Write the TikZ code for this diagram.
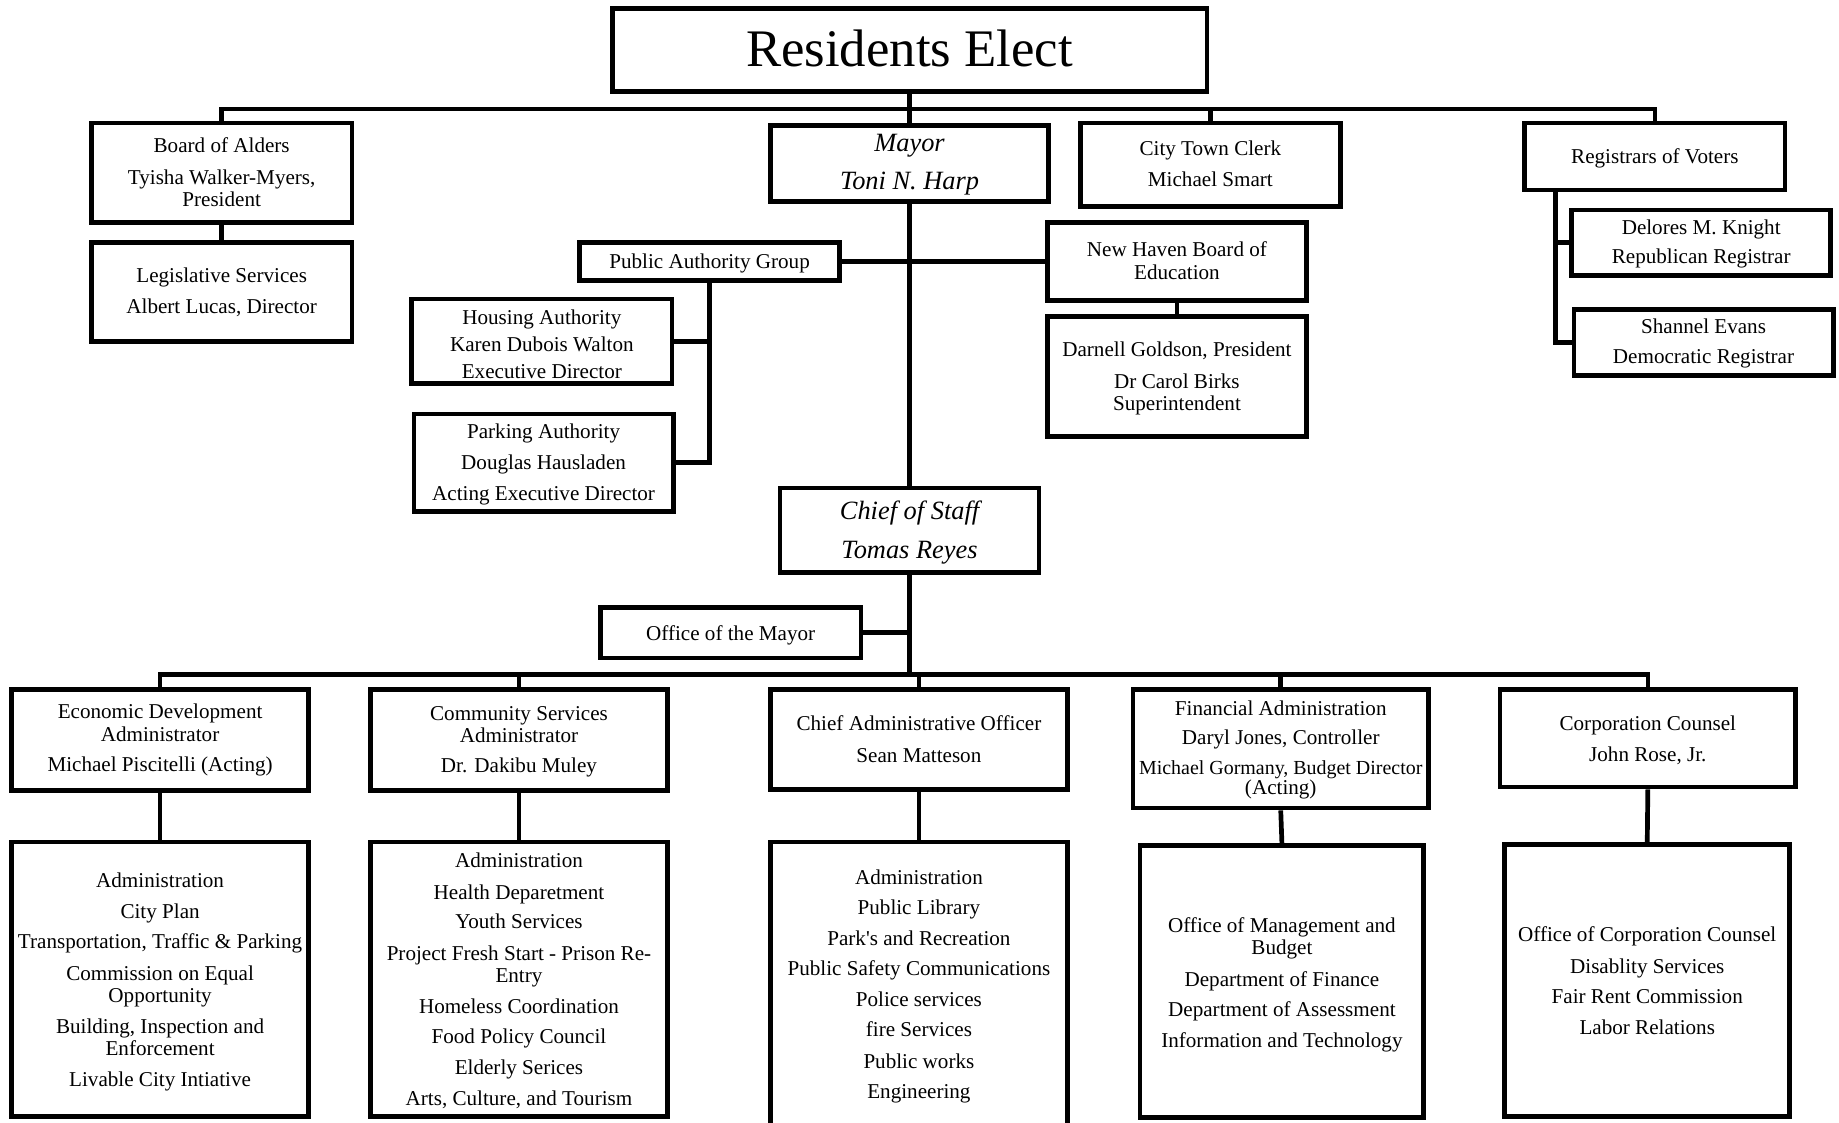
\documentclass[tikz,border=0pt]{standalone}
\usepackage{fontspec}
\setmainfont{Liberation Serif}[Ligatures=TeXOff]
\usetikzlibrary{fit}
\begin{document}
\begin{tikzpicture}[x=1pt,y=-1pt,
  box/.style={draw, line width=4pt, inner sep=0pt, line join=miter},
  conn/.style={draw, line width=4pt},
  txt/.style={align=center, inner sep=0pt, anchor=base, font=\fontsize{18}{19}\selectfont},
  itxt/.style={align=center, inner sep=0pt, anchor=base, font=\fontsize{22.5}{27}\selectfont\itshape}]
\useasboundingbox (0,0) rectangle (1568,957);
\fill[white] (0,0) rectangle (1568,957);

% boxes
\node[box, fit={(522,7) (1029,78)}] (R) {};
\node[box, fit={(78,105) (300,190)}] (BA) {};
\node[box, fit={(78,207) (300,291)}] (LS) {};
\node[box, fit={(657,107) (894,172)}] (M) {};
\node[box, fit={(921,105) (1143,176)}] (TC) {};
\node[box, fit={(1300,105) (1522,162)}] (RV) {};
\node[box, fit={(1340,179) (1561,235)}] (DK) {};
\node[box, fit={(1342,264) (1563,320)}] (SE) {};
\node[box, fit={(494,207) (716,239)}] (PAG) {};
\node[box, fit={(351,255) (573,327)}] (HA) {};
\node[box, fit={(353,353) (574,436)}] (PA) {};
\node[box, fit={(893,190) (1114,256)}] (NHB) {};
\node[box, fit={(893,270) (1114,372)}] (DG) {};
\node[box, fit={(665,416) (886,488)}] (CS) {};
\node[box, fit={(512,518) (734,561)}] (OM) {};
\node[box, fit={(10,588) (263,674)}] (ED) {};
\node[box, fit={(10,718) (263,952)}] (EDL) {};
\node[box, fit={(316,588) (569,674)}] (CSA) {};
\node[box, fit={(316,718) (569,952)}] (CSL) {};
\node[box, fit={(657,588) (910,673)}] (CAO) {};
\node[box, fit={(657,718) (910,990)}] (CAOL) {};
\node[box, fit={(966,588) (1218,689)}] (FA) {};
\node[box, fit={(972,721) (1214,953)}] (FAL) {};
\node[box, fit={(1279,588) (1531,671)}] (CC) {};
\node[box, fit={(1283,720) (1526,952)}] (CCL) {};

% helper coordinates
\coordinate (bus1) at (776,93);
\coordinate (bus2) at (776,575);
\coordinate (rvtrunk) at (1326,162);

% connectors
\draw[conn] (R.south) -- (M.north);
\draw[conn] (BA.north) -- (BA.north |- bus1) -- (RV.north |- bus1) -- (RV.north);
\draw[conn] (TC.north) -- (TC.north |- bus1);
\draw[conn] (BA.south) -- (LS.north);
\draw[conn] (M.south) -- (CS.north);
\draw[conn] (PAG.east) -- (NHB.west);
\draw[conn] (PAG.south) -- (PAG.south |- PA.east) -- (PA.east);
\draw[conn] (HA.east) -- (HA.east -| PAG.south);
\draw[conn] (NHB.south) -- (DG.north);
\draw[conn] (rvtrunk) -- (rvtrunk |- SE.west) -- (SE.west);
\draw[conn] (DK.west) -- (DK.west -| rvtrunk);
\draw[conn] (CS.south) -- (CS.south |- bus2);
\draw[conn] (OM.east) -- (OM.east -| CS.south);
\draw[conn] (ED.north) -- (ED.north |- bus2) -- (CC.north |- bus2) -- (CC.north);
\draw[conn] (CSA.north) -- (CSA.north |- bus2);
\draw[conn] (CAO.north) -- (CAO.north |- bus2);
\draw[conn] (FA.north) -- (FA.north |- bus2);
\draw[conn] (ED.south) -- (EDL.north);
\draw[conn] (CSA.south) -- (CSL.north);
\draw[conn] (CAO.south) -- (CAOL.north);
\draw[conn] (FA.south) -- (FAL.north);
\draw[conn] (CC.south) -- (CCL.north);

% texts (anchor = baseline of the last line)
\node[txt, font=\fontsize{45}{50}\selectfont] (R-t) at (775.5,57) {Residents Elect};
\node[txt] (BA-t) at (189,176) {Board of Alders\\[8pt]Tyisha Walker-Myers,\\President};
\node[txt] (LS-t) at (189,267) {Legislative Services\\[7pt]Albert Lucas, Director};
\node[itxt] (M-t) at (775.5,162) {Mayor\\[6pt]Toni N. Harp};
\node[txt] (TC-t) at (1032,159) {City Town Clerk\\[7pt]Michael Smart};
\node[txt] (RV-t) at (1411,139) {Registrars of Voters};
\node[txt] (DK-t) at (1450.5,225) {Delores M. Knight\\[6pt]Republican Registrar};
\node[txt] (SE-t) at (1452.5,310) {Shannel Evans\\[7pt]Democratic Registrar};
\node[txt] (PAG-t) at (605,229) {Public Authority Group};
\node[txt] (HA-t) at (462,323) {Housing Authority\\[4pt]Karen Dubois Walton\\[4pt]Executive Director};
\node[txt] (PA-t) at (463.5,427) {Parking Authority\\[7.5pt]Douglas Hausladen\\[7.5pt]Acting Executive Director};
\node[txt] (NHB-t) at (1003.5,238) {New Haven Board of\\Education};
\node[txt] (DG-t) at (1003.5,350) {Darnell Goldson, President\\[8pt]Dr Carol Birks\\Superintendent};
\node[itxt] (CS-t) at (775.5,476) {Chief of Staff\\[6pt]Tomas Reyes};
\node[txt] (OM-t) at (623,546) {Office of the Mayor};
\node[txt] (ED-t) at (136.5,658) {Economic Development\\Administrator\\[7pt]Michael Piscitelli (Acting)};
\node[txt] (EDL-t) at (136.5,926) {Administration\\[7pt]City Plan\\[7pt]Transportation, Traffic \& Parking\\[8pt]Commission on Equal\\Opportunity\\[7pt]Building, Inspection and\\Enforcement\\[7pt]Livable City Intiative};
\node[txt] (CSA-t) at (442.5,659) {Community Services\\Administrator\\[7pt]Dr. Dakibu Muley};
\node[txt] (CSL-t) at (442.5,943) {Administration\\[8pt]Health Deparetment\\[6pt]Youth Services\\[8pt]Project Fresh Start - Prison Re-\\Entry\\[7pt]Homeless Coordination\\[7pt]Food Policy Council\\[7pt]Elderly Serices\\[8pt]Arts, Culture, and Tourism};
\node[txt] (CAO-t) at (783.5,650) {Chief Administrative Officer\\[8pt]Sean Matteson};
\node[txt] (CAOL-t) at (783.5,937) {Administration\\[7pt]Public Library\\[7pt]Park's and Recreation\\[7pt]Public Safety Communications\\[7pt]Police services\\[7pt]fire Services\\[8pt]Public works\\[7pt]Engineering};
\node[txt] (FA-t) at (1092,677) {Financial Administration\\[6pt]Daryl Jones, Controller\\[6pt]{\fontsize{17}{19}\selectfont Michael Gormany, Budget Director}\\[-2pt](Acting)};
\node[txt] (FAL-t) at (1093,893) {Office of Management and\\Budget\\[8pt]Department of Finance\\[7pt]Department of Assessment\\[7pt]Information and Technology};
\node[txt] (CC-t) at (1405,649) {Corporation Counsel\\[7pt]John Rose, Jr.};
\node[txt] (CCL-t) at (1404.5,882) {Office of Corporation Counsel\\[8pt]Disablity Services\\[7pt]Fair Rent Commission\\[7pt]Labor Relations};
\end{tikzpicture}
\end{document}
